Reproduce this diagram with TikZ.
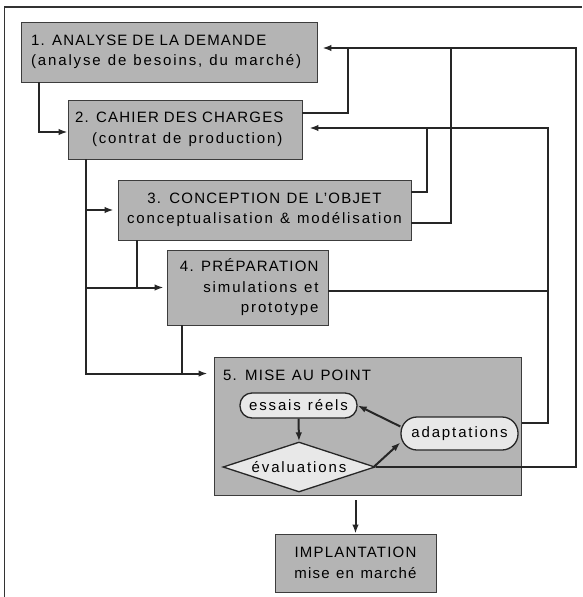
\documentclass[tikz,border=0pt]{standalone}
\usepackage{fontspec}
\setmainfont[LetterSpace=8]{Liberation Sans}
\newfontfamily\lcfam[LetterSpace=12.5]{Liberation Sans}
\newcommand\widesp{\spaceskip 6.5pt\relax}
\newcommand\lc{\lcfam\spaceskip 7pt\relax}
\usetikzlibrary{shapes.geometric,arrows.meta,calc}
\definecolor{boxgray}{RGB}{180,180,180}
\definecolor{inner}{RGB}{232,232,232}
\definecolor{edge}{RGB}{60,60,60}
\begin{document}
\begin{tikzpicture}[x=1pt,y=-1pt,
  font=\fontsize{15}{20.5}\selectfont\widesp,
  box/.style={draw=edge, line width=0.9pt, fill=boxgray, inner sep=0pt},
  pill/.style={draw=black!85, line width=1.3pt, fill=inner, inner sep=0pt,
    font=\fontsize{15}{20.5}\lc},
  conn/.style={draw=black!85, line width=2pt},
  arr/.style={conn, -{Latex[length=9pt,width=6.5pt]}}
]
\useasboundingbox (0,0) rectangle (582,597);
% frame
\draw[line width=1.1pt, black!80] (4.5,597) |- (582,7);

% boxes
\node[box, minimum width=296, minimum height=60, text width=276, align=left] (b1) at (169,52)
  {1. ANALYSE DE LA DEMANDE\\\mbox{\lc(analyse de besoins, du marché)}};
\node[box, minimum width=234, minimum height=59, text width=220, align=left] (b2) at (185,129.5)
  {2. CAHIER DES CHARGES\\\hspace*{17pt}\mbox{\lc(contrat de production)}};
\node[box, minimum width=293, minimum height=60, align=center] (b3) at (264.5,210)
  {3. CONCEPTION DE L'OBJET\\{\lc conceptualisation \& modélisation}};
\node[box, minimum width=161, minimum height=75, text width=142, align=right] (b4) at (247.5,287.5)
  {4. PRÉPARATION\\{\lc simulations et}\\{\lc prototype}\hspace*{15pt}};
\node[box, minimum width=307, minimum height=138] (b5) at (367.5,426) {};
\node[anchor=west, inner sep=0pt] (t5) at (223,375) {5. MISE AU POINT};
\node[box, minimum width=161, minimum height=58, align=center] (im) at (355.5,563)
  {IMPLANTATION\\mise en marché};

% inner nodes
\node[pill, rounded corners=12pt, minimum width=117, minimum height=25] (es) at (298.5,405.5) {essais réels};
\node[pill, rounded corners=16pt, minimum width=117, minimum height=33] (ad) at (459.5,433.5) {adaptations};
\node[pill, diamond, aspect=3, minimum width=152, minimum height=50] (ev) at (299,467) {évaluations};

% named points
\coordinate (b1in) at (b1.east |- 0,48);
\coordinate (b2in) at ([yshift=1.5pt]b2.east);
\coordinate (b5in) at ([yshift=-17pt]b5.north west);
\coordinate (tr) at ([xshift=18pt]b2.south west);
\coordinate (b3d) at ([xshift=19pt]b3.south west);
\coordinate (b4d) at ([xshift=15pt]b4.south west);
\coordinate (b4r) at ([yshift=-3.5pt]b4.east);
\coordinate (P1) at (576,48);
\coordinate (P2) at (451,48);
\coordinate (P3) at (348,48);
\coordinate (Q1) at (548,128);
\coordinate (Q2) at (427,128);
\coordinate (b5o) at ([yshift=-5pt]b5.south);

% left side
\draw[arr] ([xshift=18pt]b1.south west) |- ([yshift=-2.5pt]b2.west);
\draw[arr, shorten >=6pt] (tr) |- (b5in);
\draw[arr, shorten >=4pt] (tr |- b3.west) -- (b3.west);
\draw[arr, shorten >=3pt] (tr |- b4.west) -- (b4.west);
\draw[conn] (b3d) -- (b3d |- b4.west);
\draw[conn] (b4d) -- (b4d |- b5in);

% right side feedback
\draw[arr, shorten >=5pt] (ev.east) -| (P1) -- (b1in);
\draw[conn] ([yshift=-13pt]b3.east) -| (P2);
\draw[conn] ([yshift=16.5pt]b2.east) -| (P3);
\draw[arr, shorten >=7pt] ([xshift=3pt,yshift=10.5pt]ad.east) -| (Q1) -- (b2in);
\draw[conn] ([yshift=18pt]b3.east) -| (Q2);
\draw[conn] (b4r) -- (b4r -| Q1);

% inner arrows
\draw[arr] (es.south) -- (ev.north);
\draw[arr] ([xshift=-2pt]ev.east) -- ([yshift=-9pt]ad.west);
\draw[arr] ([yshift=7pt]ad.west) -- (es.east);

% to implantation
\draw[arr] (b5o -| im.north) -- (im.north);
\end{tikzpicture}
\end{document}
